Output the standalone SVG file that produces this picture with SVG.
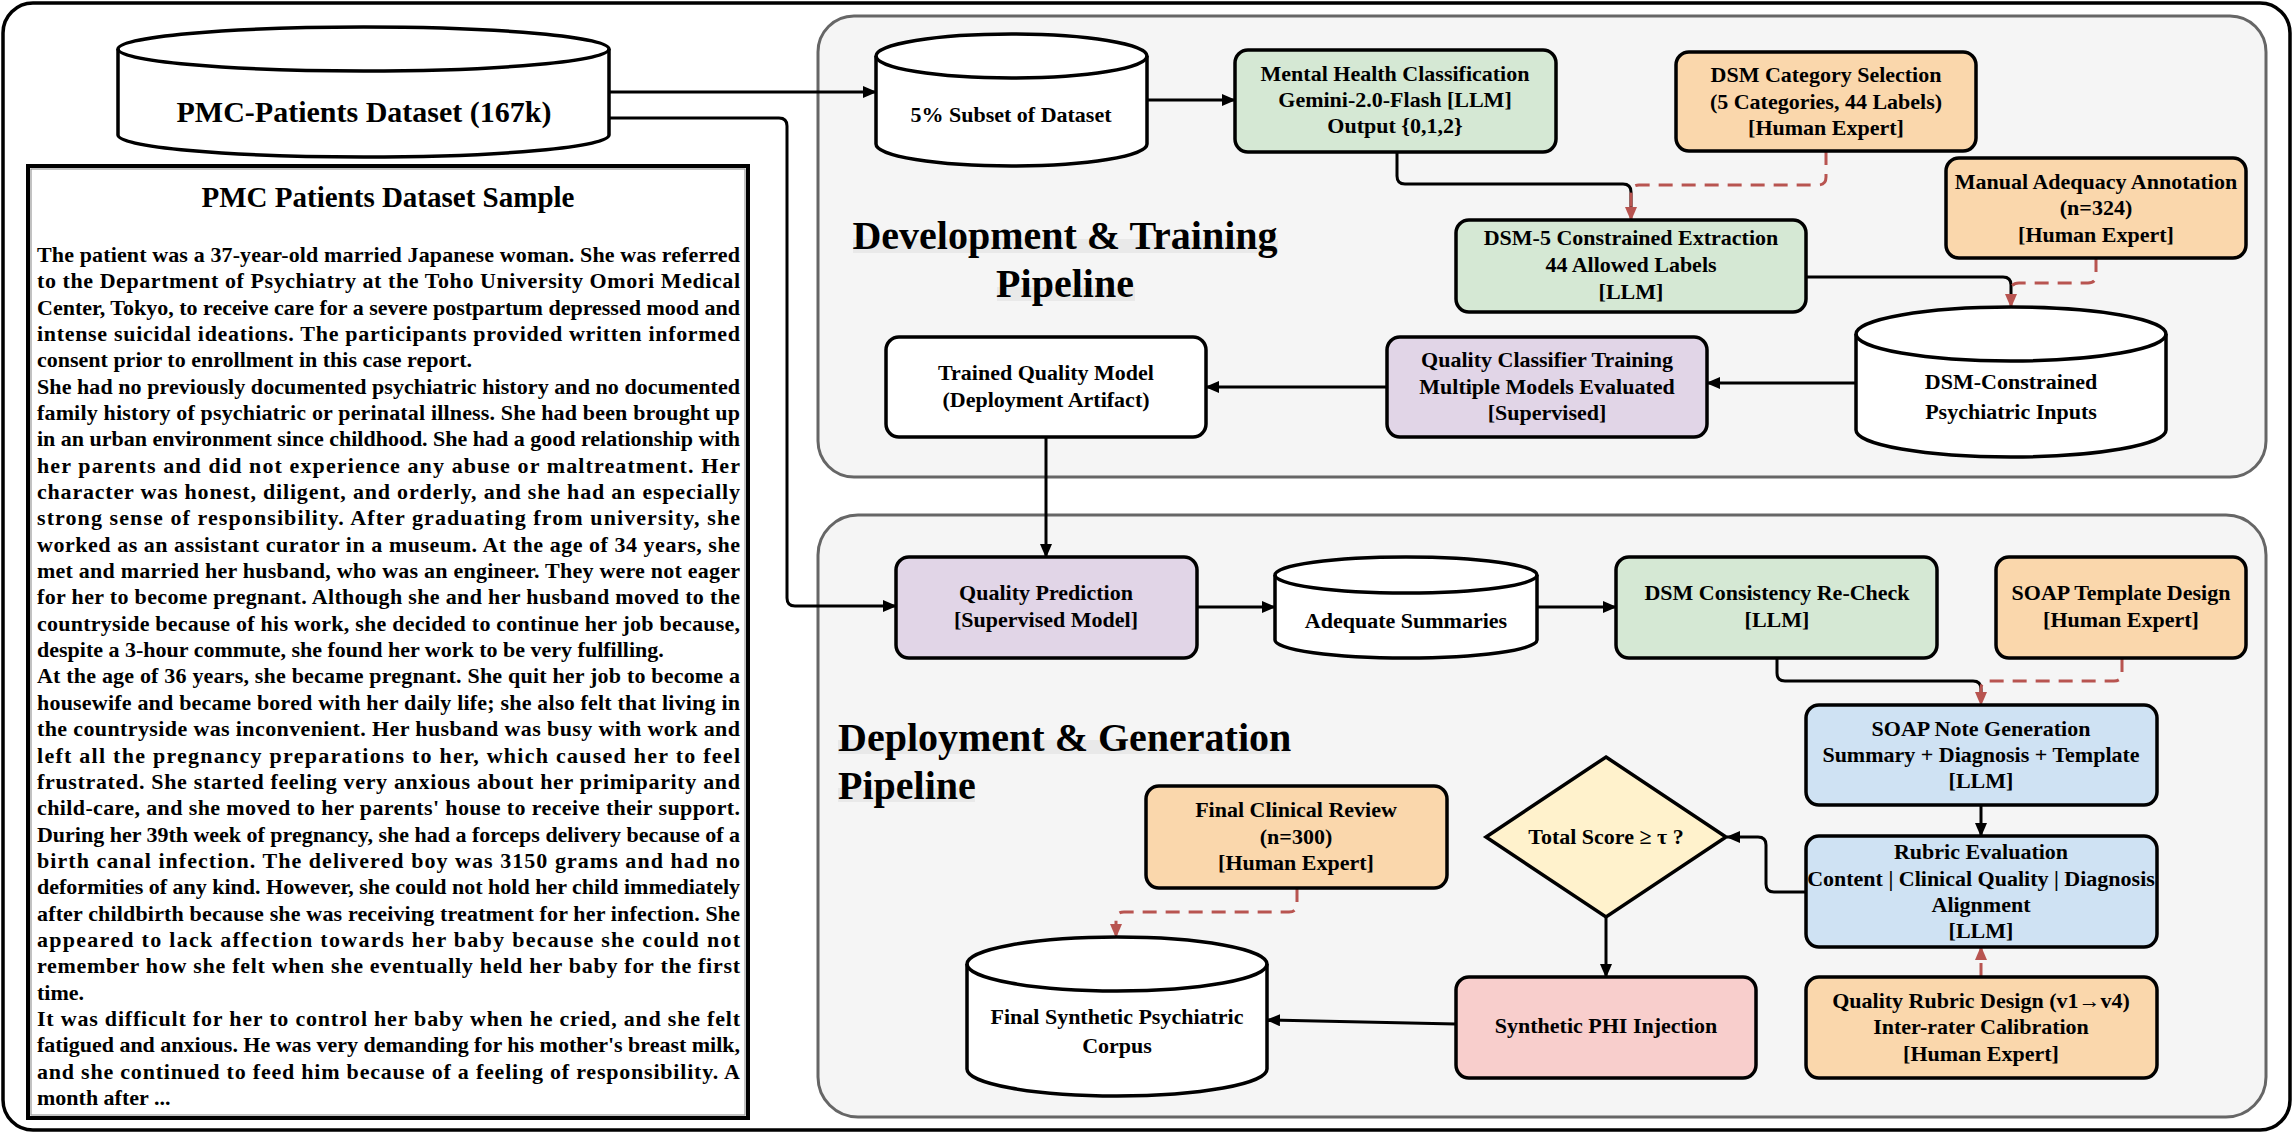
<svg xmlns="http://www.w3.org/2000/svg" width="2294" height="1134" viewBox="0 0 2294 1134">
<defs>
<marker id="ab" viewBox="0 0 14 12" refX="13" refY="6" markerWidth="14" markerHeight="12" markerUnits="userSpaceOnUse" orient="auto"><path d="M0,0 L14,6 L0,12 Z" fill="#000"/></marker>
<marker id="ar" viewBox="0 0 14 12" refX="13" refY="6" markerWidth="14" markerHeight="12" markerUnits="userSpaceOnUse" orient="auto"><path d="M0,0 L14,6 L0,12 Z" fill="#b85450"/></marker>
</defs>
<style>
text{font-family:"Liberation Serif","Times New Roman",serif;font-weight:bold;fill:#000}
.n{font-size:22px;text-anchor:middle}
.b{font-size:22px}
.t{font-size:40px}
.box{stroke:#000;stroke-width:3.5}
.g{fill:#d5e8d4}.o{fill:#fad7ac}.p{fill:#e1d5e7}.bl{fill:#cfe2f3}.r{fill:#f8cecc}.y{fill:#fff2cc}.w{fill:#fff}
.c{fill:none;stroke:#000;stroke-width:3}
.d{fill:none;stroke:#b85450;stroke-width:3;stroke-dasharray:14 9}
.band{fill:#e9e9e9}
</style>
<rect x="3" y="3" width="2287" height="1127" rx="30" fill="#fff" stroke="#000" stroke-width="3.5"/>
<g id="panel-dev"><rect x="818" y="16" width="1448" height="461" rx="36" fill="#f5f5f5" stroke="#666" stroke-width="3"/>
<rect class="band" x="853" y="239" width="425" height="14"/><rect class="band" x="997" y="287" width="138" height="14"/>
<text class="t" x="1065" y="249" text-anchor="middle">Development &amp; Training</text>
<text class="t" x="1065" y="297" text-anchor="middle">Pipeline</text></g>
<g id="panel-deploy"><rect x="818" y="515" width="1448" height="602" rx="40" fill="#f5f5f5" stroke="#666" stroke-width="3"/>
<rect class="band" x="838" y="740" width="452" height="14"/><rect class="band" x="838" y="788" width="137" height="14"/>
<text class="t" x="838" y="751">Deployment &amp; Generation</text>
<text class="t" x="838" y="799">Pipeline</text></g>

<g id="connectors">
<path class="c" d="M609,92 H876" marker-end="url(#ab)"/>
<path class="c" d="M609,118 H779 Q787,118 787,126 V598 Q787,606 795,606 H896" marker-end="url(#ab)"/>
<path class="c" d="M1147,100 H1235" marker-end="url(#ab)"/>
<path class="c" d="M1397,152 V176 Q1397,184 1405,184 H1623 Q1631,184 1631,192 V210"/>
<path class="d" d="M1826,151 V177 Q1826,185 1818,185 H1639 Q1631,185 1631,193 V220" marker-end="url(#ar)"/>
<path class="c" d="M1806,277 H2003 Q2011,277 2011,285 V298"/>
<path class="d" d="M2096,258 V275 Q2096,283 2088,283 H2019 Q2011,283 2011,291 V307" marker-end="url(#ar)"/>
<path class="c" d="M1856,383 H1707" marker-end="url(#ab)"/>
<path class="c" d="M1387,387 H1206" marker-end="url(#ab)"/>
<path class="c" d="M1046,437 V557" marker-end="url(#ab)"/>
<path class="c" d="M1197,607 H1275" marker-end="url(#ab)"/>
<path class="c" d="M1537,607 H1616" marker-end="url(#ab)"/>
<path class="c" d="M1777,658 V673 Q1777,681 1785,681 H1973 Q1981,681 1981,689 V696"/>
<path class="d" d="M2122,658 V673 Q2122,681 2114,681 H1989 Q1981,681 1981,689 V705" marker-end="url(#ar)"/>
<path class="c" d="M1981,805 V836" marker-end="url(#ab)"/>
<path class="c" d="M1806,892 H1774 Q1766,892 1766,884 V845 Q1766,837 1758,837 H1727" marker-end="url(#ab)"/>
<path class="c" d="M1606,916 V977" marker-end="url(#ab)"/>
<path class="c" d="M1456,1024 L1267,1020" marker-end="url(#ab)"/>
<path class="d" d="M1297,888 V904 Q1297,912 1289,912 H1124 Q1116,912 1116,920 V937" marker-end="url(#ar)"/>
<path class="d" d="M1981,977 V947" marker-end="url(#ar)"/>
</g>

<g id="pmc-dataset">
<path class="box w" d="M118,49 A245.5,22 0 0 1 609,49 V135 A245.5,22 0 0 1 118,135 Z"/>
<path class="box" fill="none" d="M118,49 A245.5,22 0 0 0 609,49"/>
<text x="364" y="122" text-anchor="middle" font-size="30">PMC-Patients Dataset (167k)</text>
</g>

<g id="sample">
<rect x="28" y="166" width="720" height="952" fill="#fff" stroke="#000" stroke-width="4"/>
<rect x="31" y="169" width="714" height="946" fill="none" stroke="#999" stroke-width="1.2"/>
<text x="388" y="207" text-anchor="middle" font-size="29">PMC Patients Dataset Sample</text>
<g class="b">
<text x="37" y="262" textLength="703" lengthAdjust="spacing">The patient was a 37-year-old married Japanese woman. She was referred</text>
<text x="37" y="288.3" textLength="703" lengthAdjust="spacing">to the Department of Psychiatry at the Toho University Omori Medical</text>
<text x="37" y="314.7" textLength="703" lengthAdjust="spacing">Center, Tokyo, to receive care for a severe postpartum depressed mood and</text>
<text x="37" y="341" textLength="703" lengthAdjust="spacing">intense suicidal ideations. The participants provided written informed</text>
<text x="37" y="367.4">consent prior to enrollment in this case report.</text>
<text x="37" y="393.7" textLength="703" lengthAdjust="spacing">She had no previously documented psychiatric history and no documented</text>
<text x="37" y="420" textLength="703" lengthAdjust="spacing">family history of psychiatric or perinatal illness. She had been brought up</text>
<text x="37" y="446.4" textLength="703" lengthAdjust="spacing">in an urban environment since childhood. She had a good relationship with</text>
<text x="37" y="472.7" textLength="703" lengthAdjust="spacing">her parents and did not experience any abuse or maltreatment. Her</text>
<text x="37" y="499.1" textLength="703" lengthAdjust="spacing">character was honest, diligent, and orderly, and she had an especially</text>
<text x="37" y="525.4" textLength="703" lengthAdjust="spacing">strong sense of responsibility. After graduating from university, she</text>
<text x="37" y="551.7" textLength="703" lengthAdjust="spacing">worked as an assistant curator in a museum. At the age of 34 years, she</text>
<text x="37" y="578.1" textLength="703" lengthAdjust="spacing">met and married her husband, who was an engineer. They were not eager</text>
<text x="37" y="604.4" textLength="703" lengthAdjust="spacing">for her to become pregnant. Although she and her husband moved to the</text>
<text x="37" y="630.8" textLength="703" lengthAdjust="spacing">countryside because of his work, she decided to continue her job because,</text>
<text x="37" y="657.1">despite a 3-hour commute, she found her work to be very fulfilling.</text>
<text x="37" y="683.4" textLength="703" lengthAdjust="spacing">At the age of 36 years, she became pregnant. She quit her job to become a</text>
<text x="37" y="709.8" textLength="703" lengthAdjust="spacing">housewife and became bored with her daily life; she also felt that living in</text>
<text x="37" y="736.1" textLength="703" lengthAdjust="spacing">the countryside was inconvenient. Her husband was busy with work and</text>
<text x="37" y="762.5" textLength="703" lengthAdjust="spacing">left all the pregnancy preparations to her, which caused her to feel</text>
<text x="37" y="788.8" textLength="703" lengthAdjust="spacing">frustrated. She started feeling very anxious about her primiparity and</text>
<text x="37" y="815.1" textLength="703" lengthAdjust="spacing">child-care, and she moved to her parents' house to receive their support.</text>
<text x="37" y="841.5" textLength="703" lengthAdjust="spacing">During her 39th week of pregnancy, she had a forceps delivery because of a</text>
<text x="37" y="867.8" textLength="703" lengthAdjust="spacing">birth canal infection. The delivered boy was 3150 grams and had no</text>
<text x="37" y="894.2" textLength="703" lengthAdjust="spacing">deformities of any kind. However, she could not hold her child immediately</text>
<text x="37" y="920.5" textLength="703" lengthAdjust="spacing">after childbirth because she was receiving treatment for her infection. She</text>
<text x="37" y="946.8" textLength="703" lengthAdjust="spacing">appeared to lack affection towards her baby because she could not</text>
<text x="37" y="973.2" textLength="703" lengthAdjust="spacing">remember how she felt when she eventually held her baby for the first</text>
<text x="37" y="999.5">time.</text>
<text x="37" y="1025.9" textLength="703" lengthAdjust="spacing">It was difficult for her to control her baby when he cried, and she felt</text>
<text x="37" y="1052.2" textLength="703" lengthAdjust="spacing">fatigued and anxious. He was very demanding for his mother's breast milk,</text>
<text x="37" y="1078.5" textLength="703" lengthAdjust="spacing">and she continued to feed him because of a feeling of responsibility. A</text>
<text x="37" y="1105">month after ...</text>
</g>
</g>

<g id="subset">
<path class="box w" d="M876,56 A135.5,22 0 0 1 1147,56 V144 A135.5,22 0 0 1 876,144 Z"/>
<path class="box" fill="none" d="M876,56 A135.5,22 0 0 0 1147,56"/>
<text class="n" x="1011" y="122">5% Subset of Dataset</text>
</g>
<g id="mh-class"><rect class="box g" x="1235" y="50" width="321" height="102" rx="13"/>
<text class="n" x="1395" y="81">Mental Health Classification</text><text class="n" x="1395" y="107">Gemini-2.0-Flash [LLM]</text><text class="n" x="1395" y="133">Output {0,1,2}</text></g>
<g id="dsm-cat"><rect class="box o" x="1676" y="52" width="300" height="99" rx="13"/>
<text class="n" x="1826" y="82">DSM Category Selection</text><text class="n" x="1826" y="109">(5 Categories, 44 Labels)</text><text class="n" x="1826" y="135">[Human Expert]</text></g>
<g id="manual-adequacy"><rect class="box o" x="1946" y="158" width="300" height="100" rx="13"/>
<text class="n" x="2096" y="189">Manual Adequacy Annotation</text><text class="n" x="2096" y="215">(n=324)</text><text class="n" x="2096" y="242">[Human Expert]</text></g>
<g id="dsm5-extract"><rect class="box g" x="1456" y="220" width="350" height="92" rx="13"/>
<text class="n" x="1631" y="245">DSM-5 Constrained Extraction</text><text class="n" x="1631" y="272">44 Allowed Labels</text><text class="n" x="1631" y="299">[LLM]</text></g>
<g id="dsm-inputs">
<path class="box w" d="M1856,334 A155,27 0 0 1 2166,334 V430 A155,27 0 0 1 1856,430 Z"/>
<path class="box" fill="none" d="M1856,334 A155,27 0 0 0 2166,334"/>
<text class="n" x="2011" y="389">DSM-Constrained</text><text class="n" x="2011" y="419">Psychiatric Inputs</text>
</g>
<g id="qc-train"><rect class="box p" x="1387" y="337" width="320" height="100" rx="13"/>
<text class="n" x="1547" y="367">Quality Classifier Training</text><text class="n" x="1547" y="394">Multiple Models Evaluated</text><text class="n" x="1547" y="420">[Supervised]</text></g>
<g id="trained-model"><rect class="box w" x="886" y="337" width="320" height="100" rx="13"/>
<text class="n" x="1046" y="380">Trained Quality Model</text><text class="n" x="1046" y="407">(Deployment Artifact)</text></g>

<g id="quality-pred"><rect class="box p" x="896" y="557" width="301" height="101" rx="13"/>
<text class="n" x="1046" y="600">Quality Prediction</text><text class="n" x="1046" y="627">[Supervised Model]</text></g>
<g id="adequate">
<path class="box w" d="M1275,575 A131,18 0 0 1 1537,575 V640 A131,18 0 0 1 1275,640 Z"/>
<path class="box" fill="none" d="M1275,575 A131,18 0 0 0 1537,575"/>
<text class="n" x="1406" y="628">Adequate Summaries</text>
</g>
<g id="dsm-recheck"><rect class="box g" x="1616" y="557" width="321" height="101" rx="13"/>
<text class="n" x="1777" y="600">DSM Consistency Re-Check</text><text class="n" x="1777" y="627">[LLM]</text></g>
<g id="soap-template"><rect class="box o" x="1996" y="557" width="250" height="101" rx="13"/>
<text class="n" x="2121" y="600">SOAP Template Design</text><text class="n" x="2121" y="627">[Human Expert]</text></g>
<g id="soap-gen"><rect class="box bl" x="1806" y="705" width="351" height="100" rx="13"/>
<text class="n" x="1981" y="736">SOAP Note Generation</text><text class="n" x="1981" y="762">Summary + Diagnosis + Template</text><text class="n" x="1981" y="788">[LLM]</text></g>
<g id="rubric-eval"><rect class="box bl" x="1806" y="836" width="351" height="111" rx="13"/>
<text class="n" x="1981" y="859">Rubric Evaluation</text><text class="n" x="1981" y="886">Content | Clinical Quality | Diagnosis</text><text class="n" x="1981" y="912">Alignment</text><text class="n" x="1981" y="938">[LLM]</text></g>
<g id="score-check"><path class="box y" d="M1606,757 L1726,837 L1606,917 L1486,837 Z"/>
<text class="n" x="1606" y="844">Total Score ≥ τ ?</text></g>
<g id="phi"><rect class="box r" x="1456" y="977" width="300" height="101" rx="13"/>
<text class="n" x="1606" y="1033">Synthetic PHI Injection</text></g>
<g id="rubric-design"><rect class="box o" x="1806" y="977" width="351" height="101" rx="13"/>
<text class="n" x="1981" y="1008">Quality Rubric Design (v1→v4)</text><text class="n" x="1981" y="1034">Inter-rater Calibration</text><text class="n" x="1981" y="1061">[Human Expert]</text></g>
<g id="final-review"><rect class="box o" x="1146" y="786" width="301" height="102" rx="13"/>
<text class="n" x="1296" y="817">Final Clinical Review</text><text class="n" x="1296" y="844">(n=300)</text><text class="n" x="1296" y="870">[Human Expert]</text></g>
<g id="corpus">
<path class="box w" d="M967,964 A150,27 0 0 1 1267,964 V1069 A150,27 0 0 1 967,1069 Z"/>
<path class="box" fill="none" d="M967,964 A150,27 0 0 0 1267,964"/>
<text class="n" x="1117" y="1024">Final Synthetic Psychiatric</text><text class="n" x="1117" y="1053">Corpus</text>
</g>
</svg>
